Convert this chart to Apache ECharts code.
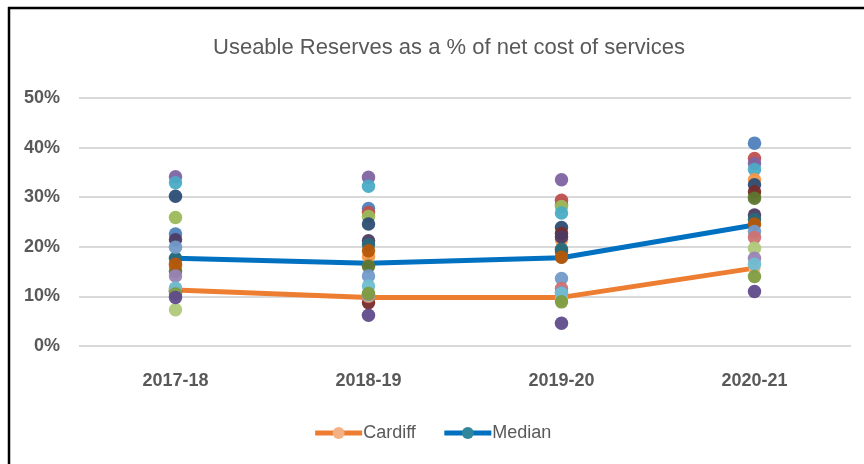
<!DOCTYPE html>
<html>
<head>
<meta charset="utf-8">
<script src="https://cdn.jsdelivr.net/npm/echarts@6/dist/echarts.min.js"></script>
<style>
html,body{margin:0;padding:0;background:#fff;}
#chart{width:864px;height:464px;}
</style>
</head>
<body>
<div id="chart"></div>
<script>
// Categories
const years = ['2017-18', '2018-19', '2019-20', '2020-21'];
const yTicks = [0, 10, 20, 30, 40, 50];

// Highlighted lines (% values)
const cardiff = [11.3, 9.8, 9.8, 15.7];
const median = [17.7, 16.7, 17.8, 24.4];

// Other authorities (% values per year)
const auth01 = [22.6, 27.7, 28.5, 40.9];
const auth02 = [11.2, 26.9, 29.4, 37.8];
const auth03 = [25.9, 26.1, 28.1, 30.3];
const auth04 = [34.1, 34.0, 33.5, 36.8];
const auth05 = [32.9, 32.2, 26.8, 35.6];
const auth06 = [16.0, 18.0, 21.4, 33.5];
const auth07 = [30.2, 24.6, 23.9, 32.5];
const auth08 = [11.0, 8.7, 22.7, 31.1];
const auth09 = [15.0, 16.1, 19.0, 29.8];
const auth10 = [21.4, 21.2, 22.0, 26.4];
const auth11 = [17.7, 20.4, 19.5, 25.5];
const auth12 = [16.5, 19.2, 17.9, 24.6];
const auth13 = [19.9, 14.1, 13.6, 23.1];
const auth14 = [11.5, 10.0, 11.6, 21.9];
const auth15 = [7.3, 10.2, 9.5, 19.7];
const auth16 = [14.1, 10.4, 10.8, 17.7];
const auth17 = [11.7, 12.1, 10.6, 16.5];
const auth18 = [10.5, 10.6, 8.9, 14.0];
const auth19 = [9.8, 6.2, 4.6, 11.0];

const authorities = [auth01, auth02, auth03, auth04, auth05, auth06, auth07, auth08, auth09, auth10,
  auth11, auth12, auth13, auth14, auth15, auth16, auth17, auth18, auth19];
const authColors = ['#4F81BD', '#C0504D', '#9BBB59', '#8064A2', '#4BACC6', '#F79646', '#2C4D75', '#772C2A',
  '#5F7530', '#4D3B62', '#276A7C', '#B65708', '#729ACA', '#CD7371', '#AFC97A', '#9983B5', '#6FBDD1',
  '#7E9C40', '#5F4B8B'];

const FONT = 'Liberation Sans, Arial, sans-serif';
const chart = echarts.init(document.getElementById('chart'), null, {renderer: 'canvas'});

const series = [
  {
    name: 'Cardiff', type: 'line', data: cardiff, z: 2,
    symbol: 'circle', symbolSize: 12, showSymbol: true,
    lineStyle: {color: '#ED7D31', width: 5},
    itemStyle: {color: '#F4B183'}
  },
  {
    name: 'Median', type: 'line', data: median, z: 2,
    symbol: 'circle', symbolSize: 12, showSymbol: true,
    lineStyle: {color: '#0070C0', width: 5},
    itemStyle: {color: '#31859C'}
  }
];
authorities.forEach((arr, i) => {
  series.push({
    name: 'a' + (i + 1), type: 'scatter', data: arr, z: 3,
    symbol: 'circle', symbolSize: 13.5,
    itemStyle: {color: authColors[i], opacity: 0.95}
  });
});

chart.setOption({
  animation: false,
  backgroundColor: '#fff',
  title: {
    text: 'Useable Reserves as a % of net cost of services',
    left: 444, textAlign: 'center', top: 32,
    textStyle: {fontFamily: FONT, fontSize: 22, fontWeight: 'normal', color: '#595959'}
  },
  grid: {left: 79, right: 13, top: 98, bottom: 118, containLabel: false},
  xAxis: {
    type: 'category', data: years, boundaryGap: true,
    axisLine: {show: false}, axisTick: {show: false},
    axisLabel: {margin: 26, fontFamily: FONT, fontSize: 18, fontWeight: 'bold', color: '#595959'}
  },
  yAxis: {
    type: 'value', min: yTicks[0], max: yTicks[yTicks.length - 1], interval: 10,
    axisLine: {show: false}, axisTick: {show: false},
    splitLine: {lineStyle: {color: '#D9D9D9', width: 2}},
    axisLabel: {margin: 19, formatter: '{value}%', fontFamily: FONT, fontSize: 18, fontWeight: 'bold', color: '#595959'}
  },
  legend: {
    data: [
      {name: 'Cardiff', lineStyle: {width: 5, color: '#ED7D31'}, itemStyle: {color: '#F4B183'}},
      {name: 'Median', lineStyle: {width: 5, color: '#0070C0'}, itemStyle: {color: '#31859C'}}
    ],
    left: 'center', top: 419,
    itemWidth: 47, itemHeight: 15, itemGap: 26,
    lineStyle: {width: 5},
    textStyle: {fontFamily: FONT, fontSize: 18, color: '#595959', padding: [0, 0, 0, -4]}
  },
  graphic: [
    {type: 'line', shape: {x1: 8, y1: 8, x2: 864, y2: 8}, style: {stroke: '#000', lineWidth: 2.5}, z: 100},
    {type: 'line', shape: {x1: 9, y1: 7, x2: 9, y2: 464}, style: {stroke: '#000', lineWidth: 2.5}, z: 100}
  ],
  series: series
});
</script>
</body>
</html>
